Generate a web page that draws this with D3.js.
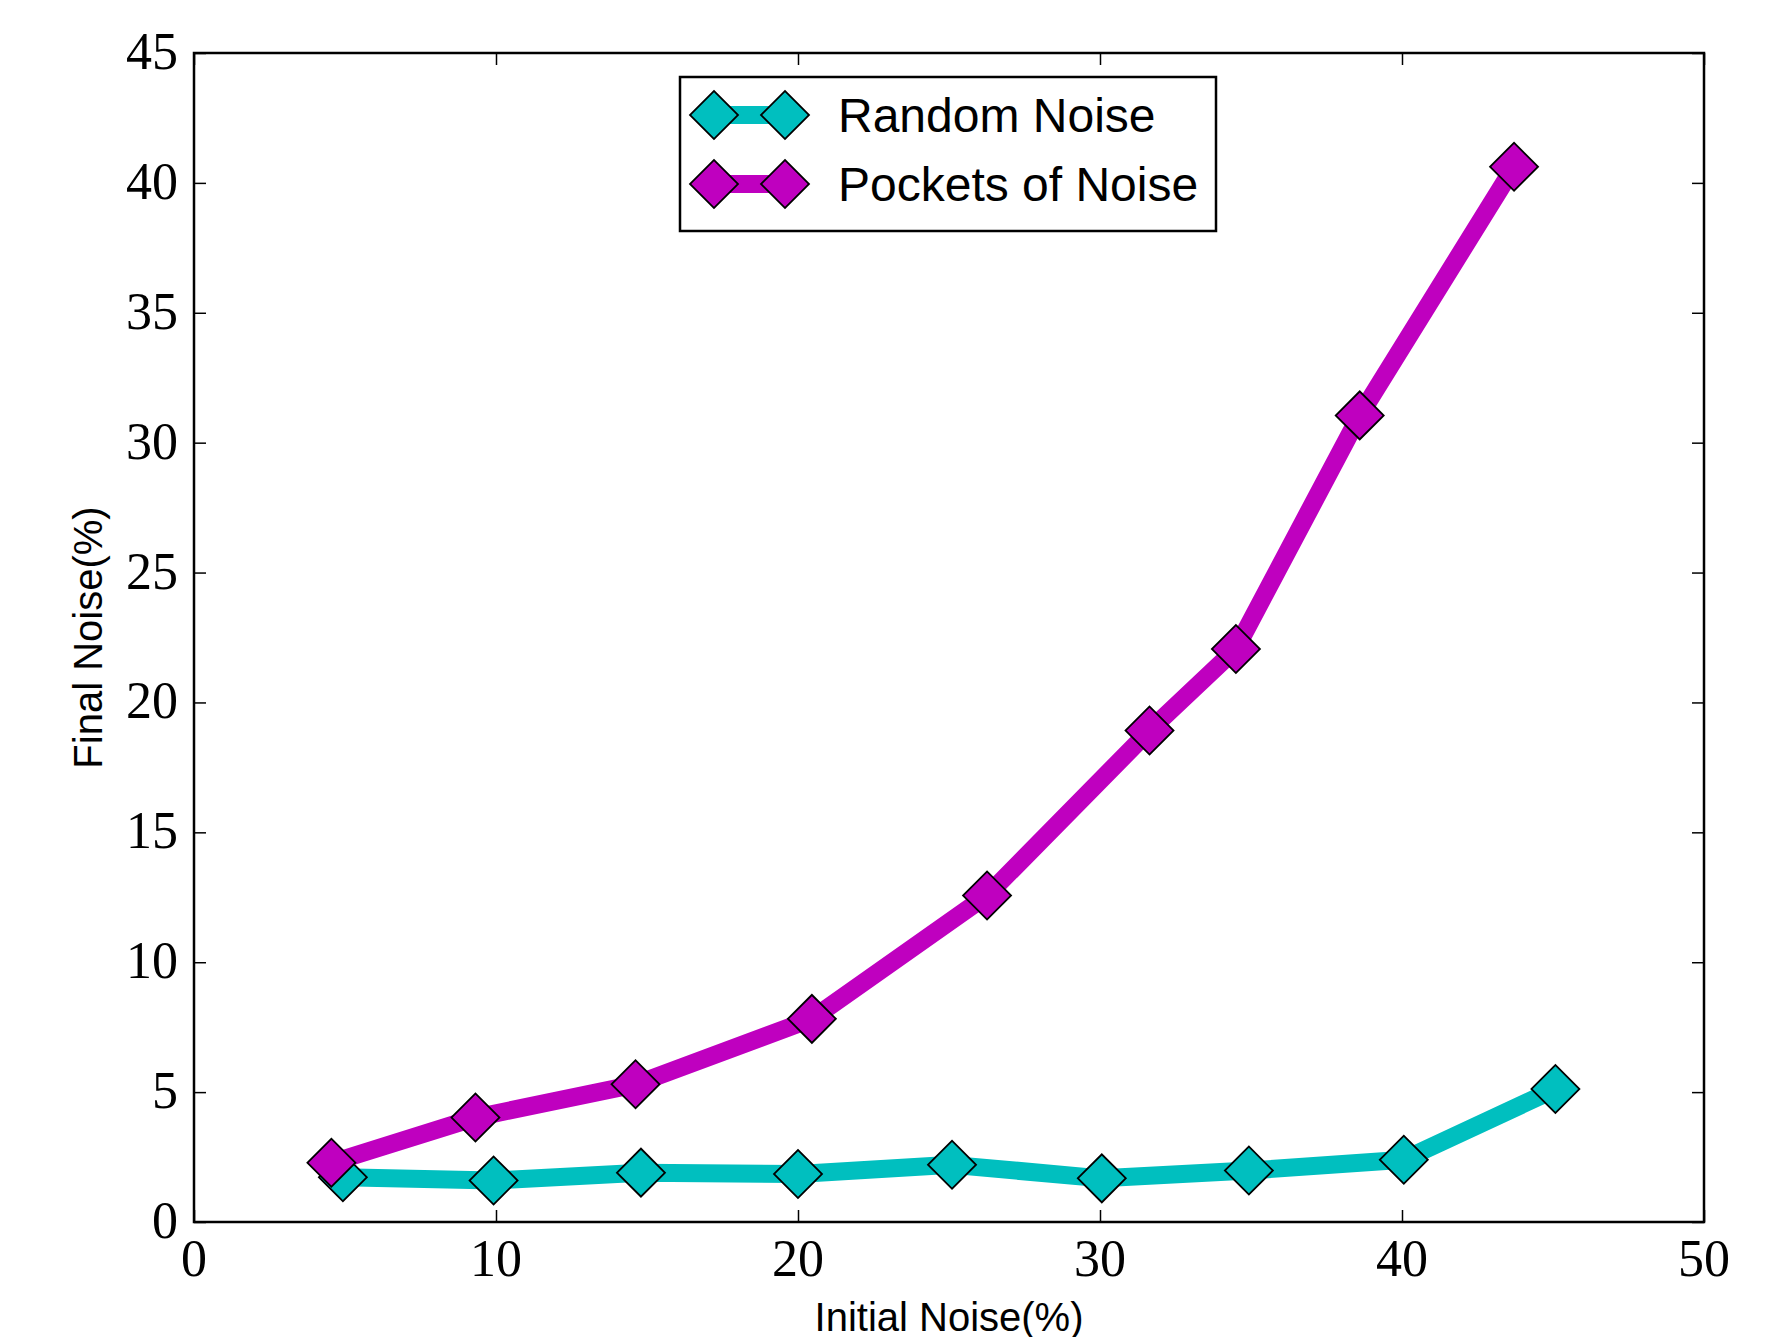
<!DOCTYPE html>
<html>
<head>
<meta charset="utf-8">
<script src="https://cdn.jsdelivr.net/npm/d3@7"></script>
<style>
    html, body { margin: 0; padding: 0; background: #fff; }
    svg { display: block; }
</style>
</head>
<body>
<div id="chart-div"></div>
<script>
// Initial vs final noise, two noise types, matplotlib-like look.

// DATA ///////////////////////////////////////////////////////////////////////
const seriesNames = ["Random Noise", "Pockets of Noise"];
const seriesColors = ["#00bfbf", "#bf00bf"];

const randomInitial = [4.93, 9.92, 14.8, 20.0, 25.1, 30.06, 34.93, 40.06, 45.08];
const randomFinal = [1.72, 1.6, 1.9, 1.85, 2.2, 1.68, 1.98, 2.4, 5.12];

const pocketsInitial = [4.55, 9.32, 14.62, 20.46, 26.26, 31.64, 34.5, 38.6, 43.71];
const pocketsFinal = [2.28, 4.02, 5.3, 7.82, 12.57, 18.92, 22.06, 31.05, 40.62];

const xTicks = [0, 10, 20, 30, 40, 50];
const yTicks = [0, 5, 10, 15, 20, 25, 30, 35, 40, 45];

const xLabel = "Initial Noise(%)";
const yLabel = "Final Noise(%)";

(function() {
    const W = 1783, H = 1337;
    const margin = {left: 194, top: 53, right: W - 1704, bottom: H - 1222};
    const w = W - margin.left - margin.right;
    const h = H - margin.top - margin.bottom;

    const lineW = 18;       // series line thickness
    const half = 24;        // diamond half diagonal
    const tickFont = "'Liberation Serif', 'Times New Roman', serif";
    const sansFont = "'Liberation Sans', Arial, Helvetica, sans-serif";

    const svg = d3.select("#chart-div")
        .append("svg")
        .attr("width", W)
        .attr("height", H);

    const g = svg.append("g")
        .attr("transform", `translate(${margin.left}, ${margin.top})`);

    const x = d3.scaleLinear().domain([0, 50]).range([0, w]);
    const y = d3.scaleLinear().domain([0, 45]).range([h, 0]);

    // diamond = square of side half*sqrt2 turned 45 degrees
    const diamond = d3.symbol().type(d3.symbolSquare).size(2 * half * half);

    // SERIES /////////////////////////////////////////////////////////////////
    const series = [
        randomInitial.map((v, i) => [v, randomFinal[i]]),
        pocketsInitial.map((v, i) => [v, pocketsFinal[i]])
    ];

    const line = d3.line()
        .x(d => x(d[0]))
        .y(d => y(d[1]));

    series.forEach(function(pts, k) {
        g.append("path")
            .datum(pts)
            .attr("d", line)
            .attr("fill", "none")
            .attr("stroke", seriesColors[k])
            .attr("stroke-width", lineW)
            .attr("stroke-linejoin", "round");

        g.selectAll(".mk" + k)
            .data(pts)
            .enter().append("path")
            .attr("class", "mk" + k)
            .attr("d", diamond)
            .attr("transform", d => `translate(${x(d[0])}, ${y(d[1])}) rotate(45)`)
            .attr("fill", seriesColors[k])
            .attr("stroke", "#000")
            .attr("stroke-width", 1.8);
    });

    // AXES ///////////////////////////////////////////////////////////////////
    // ticks point inward on all four sides
    const tick = 12;
    const axes = [
        {ax: d3.axisBottom(x), t: `translate(0, ${h})`, ticks: xTicks},
        {ax: d3.axisTop(x), t: "translate(0, 0)", ticks: xTicks},
        {ax: d3.axisLeft(y), t: "translate(0, 0)", ticks: yTicks},
        {ax: d3.axisRight(y), t: `translate(${w}, 0)`, ticks: yTicks}
    ];
    axes.forEach(function(a) {
        const ag = g.append("g")
            .attr("transform", a.t)
            .call(a.ax.tickValues(a.ticks).tickSize(-tick).tickSizeOuter(0).tickFormat(""));
        ag.select(".domain").remove();
        ag.selectAll("line").attr("stroke", "#000").attr("stroke-width", 1.5);
    });

    g.append("rect")
        .attr("width", w)
        .attr("height", h)
        .attr("fill", "none")
        .attr("stroke", "#000")
        .attr("stroke-width", 2.5);

    g.selectAll(".xt")
        .data(xTicks)
        .enter().append("text")
        .attr("class", "xt")
        .attr("x", d => x(d))
        .attr("y", h + 54)
        .attr("text-anchor", "middle")
        .style("font-family", tickFont)
        .style("font-size", "52px")
        .text(d => d);

    g.selectAll(".yt")
        .data(yTicks)
        .enter().append("text")
        .attr("class", "yt")
        .attr("x", -16)
        .attr("y", d => y(d) + 16)
        .attr("text-anchor", "end")
        .style("font-family", tickFont)
        .style("font-size", "52px")
        .text(d => d);

    svg.append("text")
        .attr("x", margin.left + w / 2)
        .attr("y", 1331)
        .attr("text-anchor", "middle")
        .style("font-family", sansFont)
        .style("font-size", "40px")
        .text(xLabel);

    svg.append("text")
        .attr("transform", `translate(102, ${margin.top + h / 2}) rotate(-90)`)
        .attr("text-anchor", "middle")
        .style("font-family", sansFont)
        .style("font-size", "40px")
        .text(yLabel);

    // LEGEND /////////////////////////////////////////////////////////////////
    const leg = svg.append("g").attr("transform", "translate(680, 77)");
    leg.append("rect")
        .attr("width", 536)
        .attr("height", 154)
        .attr("fill", "#fff")
        .attr("stroke", "#000")
        .attr("stroke-width", 2.5);

    seriesNames.forEach(function(name, k) {
        const ry = 38 + k * 69;
        leg.append("line")
            .attr("x1", 34).attr("x2", 105)
            .attr("y1", ry).attr("y2", ry)
            .attr("stroke", seriesColors[k])
            .attr("stroke-width", lineW);
        [34, 105].forEach(function(mx) {
            leg.append("path")
                .attr("d", diamond)
                .attr("transform", `translate(${mx}, ${ry}) rotate(45)`)
                .attr("fill", seriesColors[k])
                .attr("stroke", "#000")
                .attr("stroke-width", 1.8);
        });
        leg.append("text")
            .attr("x", 158)
            .attr("y", ry + 17)
            .style("font-family", sansFont)
            .style("font-size", "48px")
            .text(name);
    });
})();
</script>
</body>
</html>
